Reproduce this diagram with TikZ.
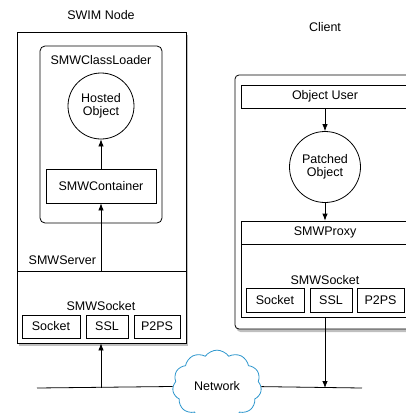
\documentclass[tikz,border=0pt]{standalone}
\usepackage{fontspec}
\setmainfont{Liberation Sans}
\usetikzlibrary{positioning, arrows.meta, shapes.symbols, shadows}
\definecolor{cloudblue}{RGB}{45,150,205}
\tikzset{
  ->,
  >={Latex[length=7pt,width=5.5pt]},
  every node/.style={font=\fontsize{12.5}{13}\selectfont},
  box/.style={draw, line width=0.8pt, inner sep=0pt},
  outer/.style={box, fill=white, drop shadow={opacity=0.5, shadow xshift=1.5pt, shadow yshift=-3pt}},
  obj/.style={box, circle, align=center},
}

\begin{document}
\begin{tikzpicture}[x=1pt, y=-1pt, line width=0.8pt]
  \useasboundingbox (0,0) rectangle (406,413);

  % SWIM node side
  \node (swimlbl) at (101,15) {SWIM Node};
  \node[outer, minimum width=169pt, minimum height=311pt] (swim) at (101.5,187.5) {};
  \node[box, rounded corners=5pt, minimum width=122pt, minimum height=177pt] (loader) at (101,134.5) {};
  \node (loaderlbl) at (101,60) {SMWClassLoader};
  \node[obj, minimum size=66pt] (hosted) at (101,106) {Hosted\\Object};
  \node[box, minimum width=110pt, minimum height=34pt] (container) at (101,186) {SMWContainer};
  \node[box, minimum width=169pt, minimum height=72pt] (server) at (101.5,307) {};
  \node[anchor=west] (serverlbl) at (25,260) {SMWServer};
  \node (socklbl) at (101,306) {SMWSocket};
  \node[box, minimum width=58pt, minimum height=23pt] (sock) at (51,326.5) {Socket};
  \node[box, minimum width=42pt, minimum height=23pt] (ssl) at (107,326.5) {SSL};
  \node[box, minimum width=46pt, minimum height=23pt] (ptps) at (157,326.5) {P2PS};

  % client side
  \node (clientlbl) at (325,27) {Client};
  \node[outer, rounded corners=4pt, minimum width=180pt, minimum height=254pt] (client) at (325,202) {};
  \node[box, minimum width=168pt, minimum height=23pt] (user) at (325,96.5) {Object User};
  \node[obj, minimum size=71pt] (patched) at (325,167) {Patched\\Object};
  \node[box, minimum width=168pt, minimum height=23pt] (proxy) at (325,232.5) {SMWProxy};
  \node[box, minimum width=168pt, minimum height=73pt] (csock) at (325,280.5) {};
  \node (csocklbl) at (325,280) {SMWSocket};
  \node[box, minimum width=58pt, minimum height=24pt] (csocket) at (275,300) {Socket};
  \node[box, minimum width=42pt, minimum height=24pt] (cssl) at (331,300) {SSL};
  \node[box, minimum width=47pt, minimum height=24pt] (cptps) at (380.5,300) {P2PS};

  % network
  \node[cloud, draw=cloudblue, line width=0.8pt, cloud puffs=11, cloud puff arc=110,
        minimum width=89pt, minimum height=50pt, inner sep=0pt] (net) at (217,386) {Network};
  \coordinate (netL) at (37,388);
  \coordinate (netR) at (362,388);
  \coordinate (tapL) at (101,388);
  \coordinate (tapR) at (325,388);

  \draw[-] (netL) -- (net);
  \draw[-] (net) -- (netR);
  \draw (tapL) -- (swim.south -| tapL);
  \draw (server.north -| container.south) -- (container.south);
  \draw (container) -- (hosted);
  \draw (user) -- (patched);
  \draw (patched) -- (proxy);
  \draw (csock.south -| tapR) -- (tapR);
\end{tikzpicture}
\end{document}
